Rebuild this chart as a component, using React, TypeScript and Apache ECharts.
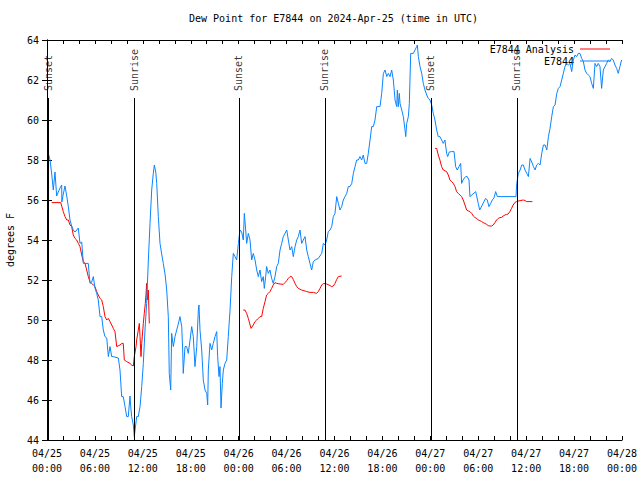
import React, { useEffect, useRef } from "react";
import * as echarts from "echarts";

const FONT = "DejaVu Sans Mono";

const titleText = "Dew Point for E7844 on 2024-Apr-25 (time in UTC)";
const obsName = "E7844";
const anaName = "E7844 Analysis";

// hours since 2024-04-25 00:00 UTC, dew point (F)
const obsPoints: [number, number][] = [
  [0.16, 58.33], [0.38, 58.0], [0.59, 57.3], [0.79, 56.5], [1.0, 57.4], [1.21, 56.2], [1.41, 56.4],
  [1.63, 56.6], [1.84, 56.75], [1.86, 55.9], [2.04, 56.3], [2.25, 56.7], [2.47, 56.2], [2.67, 55.67],
  [2.88, 55.0], [3.09, 54.7], [3.29, 54.5], [3.51, 54.4], [3.72, 54.5], [3.92, 54.6], [4.13, 53.83],
  [4.35, 53.9], [4.55, 52.83], [5.17, 52.83], [5.38, 51.83], [5.6, 51.9], [5.8, 52.17], [6.01, 51.6],
  [6.22, 51.33], [6.42, 51.0], [6.64, 50.17], [6.85, 50.17], [7.05, 49.5], [7.26, 49.17], [7.48, 49.1],
  [7.68, 48.17], [7.89, 48.67], [8.1, 48.17], [8.3, 48.17], [8.93, 48.1], [9.14, 47.5], [9.35, 46.17],
  [9.55, 46.17], [9.77, 45.67], [9.98, 45.17], [10.18, 45.17], [10.39, 46.2], [10.48, 45.7], [10.6, 45.17],
  [10.81, 44.75], [10.93, 44.17], [11.23, 45.17], [11.43, 45.17], [11.65, 45.67], [11.86, 46.67],
  [12.06, 47.83], [12.27, 49.5], [12.48, 50.83], [12.69, 53.0], [12.9, 54.83], [13.11, 56.5],
  [13.31, 57.33], [13.44, 57.75], [13.62, 57.4], [13.74, 56.83], [13.94, 55.17], [14.15, 53.83],
  [14.36, 53.3], [14.56, 52.83], [14.78, 52.3], [14.99, 51.5], [15.19, 50.17], [15.31, 47.33],
  [15.49, 46.5], [15.61, 49.33], [15.82, 48.67], [16.03, 49.17], [16.24, 49.5], [16.44, 49.8],
  [16.65, 50.17], [16.87, 49.67], [16.99, 48.5], [17.06, 47.33], [17.28, 48.67], [17.49, 48.67],
  [17.69, 48.33], [17.91, 49.0], [18.12, 49.67], [18.32, 49.17], [18.53, 47.67], [18.75, 48.67],
  [18.95, 50.5], [19.03, 50.75], [19.16, 49.5], [19.37, 48.5], [19.57, 47.0], [19.79, 46.5],
  [20.0, 46.33], [20.12, 45.75], [20.2, 47.5], [20.41, 48.83], [20.62, 48.5], [20.82, 48.83],
  [21.04, 49.17], [21.25, 49.42], [21.37, 48.17], [21.54, 47.17], [21.66, 47.67], [21.79, 45.6],
  [21.95, 46.83], [22.08, 47.5], [22.29, 47.83], [22.5, 48.0], [22.7, 49.17], [22.92, 50.5],
  [23.13, 52.17], [23.33, 53.33], [23.54, 53.17], [23.75, 53.0], [23.96, 53.83], [24.17, 54.5],
  [24.38, 54.4], [24.58, 54.0], [24.71, 55.33], [24.88, 54.5], [25.0, 53.83], [25.21, 54.33],
  [25.42, 54.0], [25.63, 53.0], [25.83, 53.33], [26.05, 53.0], [26.26, 52.5], [26.46, 52.17],
  [26.67, 52.5], [26.88, 51.92], [27.08, 52.17], [27.21, 51.58], [27.38, 52.17], [27.5, 52.67],
  [27.71, 52.33], [27.92, 52.5], [28.13, 52.08], [28.33, 51.83], [28.55, 52.17], [28.76, 52.67],
  [28.96, 52.83], [29.18, 53.5], [29.39, 53.83], [29.59, 54.17], [29.8, 54.33], [30.02, 54.5],
  [30.22, 54.0], [30.43, 53.5], [30.64, 53.67], [30.84, 53.17], [31.06, 53.67], [31.27, 54.0],
  [31.47, 54.17], [31.68, 54.5], [31.89, 53.83], [32.09, 54.0], [32.31, 54.17], [32.52, 53.5],
  [32.72, 53.17], [32.93, 52.83], [33.14, 52.5], [33.35, 52.92], [33.56, 53.0], [33.97, 53.08],
  [34.4, 53.33], [34.6, 53.83], [34.81, 53.75], [35.02, 54.0], [35.22, 54.42], [35.44, 54.5],
  [35.65, 54.67], [35.85, 55.17], [36.06, 55.33], [36.28, 56.17], [36.48, 55.83], [36.69, 55.5],
  [36.9, 55.67], [37.1, 56.0], [37.32, 56.17], [37.53, 56.33], [37.73, 56.67], [37.94, 56.67],
  [38.16, 56.83], [38.36, 57.33], [38.57, 57.67], [38.78, 58.0], [38.98, 58.0], [39.19, 58.17],
  [39.4, 58.0], [39.6, 58.25], [39.82, 57.83], [40.03, 57.83], [40.23, 58.33], [40.45, 59.0],
  [40.66, 59.67], [40.86, 59.67], [41.07, 60.0], [41.29, 60.67], [41.7, 60.67], [41.91, 61.33],
  [42.12, 62.33], [42.33, 62.5], [42.54, 62.17], [42.74, 62.33], [42.95, 62.17], [43.16, 62.5],
  [43.37, 62.0], [43.58, 61.0], [43.79, 60.67], [43.87, 61.5], [43.99, 60.67], [44.12, 61.33],
  [44.2, 60.83], [44.42, 60.5], [44.62, 60.17], [44.83, 59.5], [44.92, 59.17], [45.04, 59.83],
  [45.25, 60.17], [45.37, 60.83], [45.54, 63.33], [45.87, 63.33], [46.08, 63.5], [46.29, 63.67],
  [46.37, 63.75], [46.5, 63.17], [46.71, 62.67], [46.92, 62.33], [47.12, 61.83], [47.33, 61.5],
  [47.55, 61.25], [47.75, 61.08], [47.96, 61.0], [48.17, 60.75], [48.37, 60.33], [48.58, 60.0],
  [48.79, 59.5], [48.99, 59.17], [49.2, 59.17], [49.41, 59.0], [49.62, 58.83], [49.83, 59.0],
  [50.04, 58.33], [50.17, 58.17], [50.37, 58.4], [50.67, 58.42], [50.97, 58.42], [51.17, 57.67],
  [51.37, 57.5], [51.59, 57.67], [51.8, 57.83], [51.92, 56.83], [52.09, 57.0], [52.42, 57.17],
  [52.62, 57.17], [52.84, 57.0], [52.96, 56.17], [53.68, 56.42], [54.0, 55.83], [54.18, 55.5],
  [54.5, 55.75], [54.72, 55.92], [54.93, 56.08], [55.13, 56.0], [55.34, 55.67], [55.56, 55.83],
  [55.76, 56.0], [55.97, 56.1], [56.18, 56.42], [56.39, 56.17], [58.73, 56.17], [58.82, 56.83],
  [59.02, 57.33], [59.24, 57.5], [59.45, 57.75], [59.65, 57.75], [59.86, 57.5], [60.07, 57.33],
  [60.28, 57.17], [60.49, 58.08], [60.7, 57.9], [60.91, 57.67], [61.11, 57.5], [61.32, 57.75],
  [61.53, 57.83], [61.74, 57.75], [61.95, 58.33], [62.16, 58.75], [62.37, 58.75], [62.58, 58.5],
  [62.79, 59.17], [62.99, 59.58], [63.2, 60.17], [63.41, 60.67], [63.62, 60.75], [63.83, 61.33],
  [64.03, 61.58], [64.24, 61.67], [64.45, 62.0], [64.65, 62.33], [64.86, 62.67], [65.07, 62.83],
  [65.28, 62.75], [65.49, 62.83], [65.7, 62.42], [65.9, 63.0], [66.12, 63.25], [66.33, 63.17],
  [66.53, 63.33], [66.74, 63.33], [66.95, 63.08], [67.16, 62.92], [67.37, 62.5], [67.58, 62.33],
  [67.78, 62.25], [67.99, 62.17], [68.2, 61.83], [68.41, 61.58], [68.62, 62.83], [68.83, 62.67],
  [69.03, 62.83], [69.24, 62.67], [69.45, 61.58], [69.66, 62.5], [69.87, 62.67], [70.08, 62.83],
  [70.28, 63.0], [70.49, 62.92], [70.7, 63.08], [70.9, 63.0], [71.12, 62.75], [71.33, 62.58],
  [71.53, 62.33], [71.74, 62.67], [71.95, 63.0],
];

const analysisDay1: [number, number][] = [
  [0.59, 55.87], [1.72, 55.87], [1.84, 55.7], [2.04, 55.42], [2.25, 55.17], [2.47, 55.0], [2.67, 55.0],
  [2.88, 54.75], [3.09, 54.67], [3.29, 54.25], [3.51, 54.08], [3.72, 54.0], [3.92, 53.83], [4.13, 53.67],
  [4.35, 53.25], [4.55, 52.92], [4.76, 52.83], [4.97, 52.5], [5.17, 52.17], [5.38, 51.92], [5.8, 51.75],
  [6.01, 51.67], [6.22, 51.42], [6.42, 51.25], [6.64, 51.08], [6.85, 51.0], [7.05, 50.67], [7.26, 50.17],
  [7.48, 50.0], [7.68, 50.08], [7.89, 49.92], [8.1, 49.75], [8.3, 49.58], [8.51, 49.42], [8.73, 48.67],
  [9.14, 48.75], [9.35, 48.83], [9.55, 48.83], [9.68, 48.0], [9.98, 47.92], [10.39, 47.83], [10.6, 47.75],
  [10.81, 47.7], [10.93, 48.17], [11.15, 48.67], [11.23, 49.0], [11.43, 49.5], [11.56, 49.83],
  [11.65, 49.17], [11.77, 48.17], [11.86, 48.83], [12.06, 49.83], [12.18, 50.33], [12.31, 50.83],
  [12.4, 51.3], [12.48, 51.83], [12.56, 51.0], [12.69, 51.5], [12.81, 49.83],
];

const analysisDay2: [number, number][] = [
  [24.58, 50.5], [24.79, 50.5], [25.0, 50.33], [25.21, 50.08], [25.55, 49.58], [25.83, 49.75],
  [26.05, 49.92], [26.26, 50.0], [26.46, 50.08], [26.67, 50.17], [26.88, 50.17], [27.08, 50.58],
  [27.3, 50.92], [27.5, 51.25], [27.71, 51.33], [27.92, 51.42], [28.13, 51.58], [28.33, 51.75],
  [28.55, 51.87], [28.76, 51.83], [29.18, 51.8], [29.59, 51.78], [29.8, 51.87], [30.02, 51.97],
  [30.22, 52.08], [30.43, 52.17], [30.64, 52.17], [30.84, 52.03], [31.06, 51.83], [31.27, 51.67],
  [31.47, 51.58], [31.89, 51.5], [32.31, 51.45], [32.52, 51.42], [32.93, 51.38], [33.35, 51.38],
  [33.77, 51.33], [33.97, 51.42], [34.19, 51.58], [34.4, 51.75], [34.6, 51.83], [35.02, 51.8],
  [35.44, 51.72], [35.65, 51.67], [35.85, 51.7], [36.06, 51.83], [36.28, 52.03], [36.48, 52.17],
  [36.9, 52.2],
];

const analysisDay3: [number, number][] = [
  [48.58, 58.58], [48.79, 58.58], [48.99, 58.25], [49.2, 58.0], [49.41, 57.67], [49.62, 57.5],
  [50.04, 57.42], [50.25, 57.25], [50.45, 57.0], [50.67, 56.92], [50.87, 56.83], [51.09, 56.67],
  [51.29, 56.42], [51.5, 56.33], [51.71, 56.25], [51.92, 56.17], [52.12, 56.0], [52.34, 55.75],
  [52.55, 55.5], [52.75, 55.45], [52.96, 55.42], [53.18, 55.33], [53.38, 55.2], [53.59, 55.12],
  [53.8, 55.08], [54.0, 55.0], [54.21, 54.97], [54.42, 54.92], [54.62, 54.87], [54.84, 54.83],
  [55.05, 54.78], [55.25, 54.72], [55.46, 54.7], [55.67, 54.7], [55.87, 54.75], [56.08, 54.87],
  [56.3, 55.0], [56.5, 55.08], [56.71, 55.12], [56.92, 55.13], [57.12, 55.2], [57.34, 55.25],
  [57.55, 55.28], [57.75, 55.3], [57.96, 55.42], [58.17, 55.58], [58.37, 55.75], [58.58, 55.87],
  [58.79, 55.92], [59.24, 55.97], [59.65, 56.0], [59.86, 55.97], [60.07, 55.92], [60.49, 55.92],
  [60.78, 55.92],
];

const eventTimes = [0.16, 10.93, 24.04, 34.8, 48.08, 58.85];
const eventLabels = ["Sunset", "Sunrise", "Sunset", "Sunrise", "Sunset", "Sunrise"];
const eventLineTop = 61.1;
const eventLabelBase = 61.4;

const yTicks = { min: 44, max: 64, step: 2 };
const xRange = { min: 0, max: 72, step: 6 };
const startDay = 25;

const BLUE = "#0a84ff";
const RED = "#ff0000";

function xLabel(v: number): string {
  const day = startDay + Math.floor(v / 24);
  const h = Math.round(v % 24);
  return "04/" + String(day).padStart(2, "0") + "\n" + String(h).padStart(2, "0") + ":00";
}

export default function App() {
  const ref = useRef<HTMLDivElement>(null);
  useEffect(() => {
    if (!ref.current) return;
    const chart = echarts.init(ref.current, null, { renderer: "svg" });
    const txt = { fontFamily: FONT, fontSize: 10, color: "#000" };
    const axisLine = { show: true, lineStyle: { color: "#000", width: 1 } };
    const xCommon = {
      type: "value" as const,
      min: xRange.min,
      max: xRange.max,
      interval: xRange.step,
      splitLine: { show: false },
      axisLine,
      axisTick: { show: true, inside: true, length: 4, lineStyle: { color: "#000" } },
      minorTick: { show: true, splitNumber: 3, length: 4, lineStyle: { color: "#000" } },
    };
    const yCommon = {
      type: "value" as const,
      min: yTicks.min,
      max: yTicks.max,
      interval: yTicks.step,
      splitLine: { show: false },
      axisLine,
      axisTick: { show: true, inside: true, length: 5, lineStyle: { color: "#000" } },
    };
    const lineSeries = (name: string, data: [number, number][], color: string) => ({
      type: "line",
      name,
      data,
      symbol: "none",
      showSymbol: false,
      lineStyle: { color, width: 1 },
      itemStyle: { color },
      xAxisIndex: 0,
      yAxisIndex: 0,
      z: 3,
    });
    chart.setOption({
      animation: false,
      backgroundColor: "#fff",
      textStyle: { fontFamily: FONT },
      title: {
        text: titleText,
        left: 184,
        top: 8,
        textStyle: { ...txt, fontWeight: "normal" },
      },
      legend: {
        orient: "vertical",
        right: 30,
        top: 44,
        padding: 0,
        align: "right",
        icon: "rect",
        itemWidth: 30,
        itemHeight: 1,
        itemGap: 2,
        data: [anaName, obsName],
        textStyle: { ...txt, padding: [0, 1, 0, 0] },
      },
      grid: { left: 47, right: 18, top: 40, bottom: 40, containLabel: false, outerBoundsMode: "none" },
      xAxis: [
        {
          ...xCommon,
          position: "bottom",
          axisLabel: { ...txt, lineHeight: 15, margin: 6, formatter: xLabel, showMinLabel: true, showMaxLabel: true },
        },
        { ...xCommon, position: "top", axisLabel: { show: false } },
      ],
      yAxis: [
        {
          ...yCommon,
          position: "left",
          name: "degrees F",
          nameLocation: "middle",
          nameGap: 32,
          nameRotate: 90,
          nameTextStyle: { ...txt },
          axisLabel: { ...txt, margin: 8 },
        },
        { ...yCommon, position: "right", axisLabel: { show: false } },
      ],
      series: [
        lineSeries(anaName, analysisDay1, RED),
        lineSeries(anaName, analysisDay2, RED),
        lineSeries(anaName, analysisDay3, RED),
        { ...lineSeries(obsName, obsPoints, BLUE), z: 4 },
        {
          type: "scatter",
          name: "events",
          xAxisIndex: 0,
          yAxisIndex: 0,
          symbol: "circle",
          symbolSize: 1,
          itemStyle: { color: "rgba(0,0,0,0)" },
          silent: true,
          z: 5,
          data: eventTimes.map((t, i) => ({ value: [t, eventLabelBase], name: eventLabels[i] })),
          label: {
            show: true,
            formatter: "{b}",
            position: "inside",
            rotate: 90,
            align: "left",
            verticalAlign: "middle",
            offset: [1, 0],
            ...txt,
          },
          markLine: {
            silent: true,
            symbol: ["none", "none"],
            label: { show: false },
            lineStyle: { color: "#000", width: 1, type: "solid" },
            data: eventTimes.map((t) => [{ coord: [t, eventLineTop] }, { coord: [t, yTicks.min] }]),
          },
        },
      ],
    });
    return () => chart.dispose();
  }, []);
  return <div ref={ref} style={{ width: 640, height: 480, position: "absolute", left: 0, top: 0 }} />;
}
